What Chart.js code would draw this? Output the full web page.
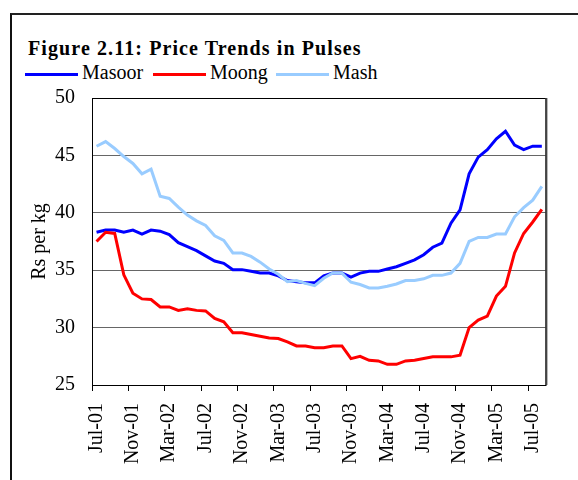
<!DOCTYPE html>
<html lang="en">
<head>
    <meta charset="UTF-8" />
    <title>Price Trends in Pulses</title>
    <script src="https://cdn.jsdelivr.net/npm/chart.js"></script>
    <style>
        body {
            margin: 0;
            background: #fff;
            font-family: 'Liberation Serif', 'Times New Roman', serif;
        }

        .wrap {
            position: relative;
            width: 578px;
            height: 480px;
            overflow: hidden;
        }

        .frame {
            position: absolute;
            left: 10px;
            top: 13px;
            width: 700px;
            height: 600px;
            border-left: 2px solid #111;
            border-top: 2px solid #222;
        }

        .title {
            position: absolute;
            left: 28px;
            top: 38px;
            font-size: 20px;
            line-height: 20px;
            font-weight: bold;
            letter-spacing: 1.1px;
            white-space: nowrap;
        }

        .key-line {
            position: absolute;
            top: 73px;
            height: 3px;
            width: 53px;
        }

        .key-text {
            position: absolute;
            top: 62px;
            font-size: 20px;
            line-height: 20px;
            white-space: nowrap;
        }

        canvas {
            position: absolute;
            left: 0;
            top: 0;
        }
    </style>
</head>
<body>
    <div class="wrap">
        <div class="frame"></div>
        <div class="title">Figure 2.11: Price Trends in Pulses</div>

        <div class="key-line" style="left:25px;background:#0000ff"></div>
        <div class="key-text" style="left:82px">Masoor</div>
        <div class="key-line" style="left:153px;background:#ff0000"></div>
        <div class="key-text" style="left:210px">Moong</div>
        <div class="key-line" style="left:276px;background:#99ccff"></div>
        <div class="key-text" style="left:333px">Mash</div>

        <canvas id="pulseChart" width="578" height="480"></canvas>
    </div>

    <script>
        const months = [
            'Jul-01', 'Aug-01', 'Sep-01', 'Oct-01', 'Nov-01', 'Dec-01', 'Jan-02', 'Feb-02',
            'Mar-02', 'Apr-02', 'May-02', 'Jun-02', 'Jul-02', 'Aug-02', 'Sep-02', 'Oct-02',
            'Nov-02', 'Dec-02', 'Jan-03', 'Feb-03', 'Mar-03', 'Apr-03', 'May-03', 'Jun-03',
            'Jul-03', 'Aug-03', 'Sep-03', 'Oct-03', 'Nov-03', 'Dec-03', 'Jan-04', 'Feb-04',
            'Mar-04', 'Apr-04', 'May-04', 'Jun-04', 'Jul-04', 'Aug-04', 'Sep-04', 'Oct-04',
            'Nov-04', 'Dec-04', 'Jan-05', 'Feb-05', 'Mar-05', 'Apr-05', 'May-05', 'Jun-05',
            'Jul-05', 'Aug-05'
        ];

        // Rs per kg, monthly
        const masoor = [
            38.3, 38.5, 38.5, 38.3, 38.5, 38.15, 38.5, 38.4, 38.1, 37.4,
            37.05, 36.7, 36.25, 35.8, 35.6, 35.05, 35.05, 34.9, 34.75, 34.75,
            34.5, 34.1, 34.0, 33.9, 33.9, 34.5, 34.75, 34.75, 34.4, 34.75,
            34.9, 34.9, 35.1, 35.3, 35.6, 35.9, 36.35, 37.0, 37.35, 39.1,
            40.25, 43.4, 44.85, 45.5, 46.45, 47.1, 45.9, 45.5, 45.8, 45.8
        ];
        const moong = [
            37.5, 38.3, 38.2, 34.6, 33.0, 32.5, 32.45, 31.8, 31.8, 31.5,
            31.65, 31.5, 31.45, 30.8, 30.5, 29.55, 29.55, 29.4, 29.25, 29.1,
            29.05, 28.75, 28.4, 28.4, 28.25, 28.25, 28.4, 28.4, 27.3, 27.5,
            27.15, 27.1, 26.8, 26.8, 27.1, 27.15, 27.3, 27.45, 27.45, 27.45,
            27.6, 30.0, 30.65, 31.0, 32.75, 33.6, 36.5, 38.2, 39.2, 40.3
        ];
        const mash = [
            45.8, 46.2, 45.6, 44.9, 44.3, 43.4, 43.8, 41.45, 41.25, 40.5,
            39.8, 39.3, 38.9, 38.0, 37.6, 36.5, 36.5, 36.2, 35.7, 35.1,
            34.65, 34.0, 34.1, 33.85, 33.65, 34.3, 34.75, 34.75, 33.95, 33.75,
            33.45, 33.45, 33.6, 33.8, 34.1, 34.1, 34.25, 34.55, 34.55, 34.75,
            35.6, 37.5, 37.85, 37.85, 38.15, 38.15, 39.65, 40.45, 41.1, 42.3
        ];

        const serif = "'Liberation Serif', 'Times New Roman', serif";

        // outline round the plot area
        const plotBorder = {
            id: 'plotBorder',
            afterDraw(chart) {
                const { ctx, chartArea: a } = chart;
                ctx.save();
                ctx.strokeStyle = '#000';
                ctx.lineWidth = 1;
                ctx.strokeRect(a.left + 0.5, a.top + 0.5, a.right - a.left - 1, a.bottom - a.top);
                ctx.strokeStyle = '#444';
                ctx.lineWidth = 2;
                ctx.beginPath();
                ctx.moveTo(a.right, a.top);
                ctx.lineTo(a.right, a.bottom);
                ctx.stroke();
                ctx.restore();
            }
        };

        const ctx = document.getElementById('pulseChart').getContext('2d');

        new Chart(ctx, {
            type: 'line',
            data: {
                labels: months,
                datasets: [
                    { label: 'Masoor', data: masoor, borderColor: '#0000ff', order: 2 },
                    { label: 'Moong', data: moong, borderColor: '#ff0000', order: 1 },
                    { label: 'Mash', data: mash, borderColor: '#99ccff', order: 0 }
                ]
            },
            options: {
                responsive: false,
                animation: false,
                devicePixelRatio: 1,
                layout: { padding: { left: 28, top: 98, right: 17, bottom: 0 } },
                elements: {
                    line: { borderWidth: 3, tension: 0 },
                    point: { radius: 0 }
                },
                plugins: {
                    legend: { display: false },
                    tooltip: { enabled: false }
                },
                scales: {
                    x: {
                        offset: true,
                        grid: {
                            offset: true,
                            drawOnChartArea: false,
                            tickLength: 6,
                            color: c => (c.index % 4 === 0 ? '#000' : 'rgba(0,0,0,0)')
                        },
                        border: { display: false },
                        ticks: {
                            autoSkip: false,
                            maxRotation: 90,
                            minRotation: 90,
                            padding: 12,
                            color: '#000',
                            font: { family: serif, size: 20 },
                            callback: function (v, i) {
                                return i % 4 === 0 ? this.getLabelForValue(v) : '';
                            }
                        },
                        afterFit: s => { s.height = 95; }
                    },
                    y: {
                        min: 25,
                        max: 50,
                        grid: { color: '#666', lineWidth: 1, drawTicks: false },
                        border: { display: false },
                        ticks: {
                            stepSize: 5,
                            padding: 17,
                            color: '#000',
                            font: { family: serif, size: 20 }
                        },
                        title: {
                            display: true,
                            text: 'Rs per kg',
                            color: '#000',
                            padding: 0,
                            font: { family: serif, size: 20 }
                        },
                        afterFit: s => { s.width = 64; }
                    }
                }
            },
            plugins: [plotBorder]
        });
    </script>
</body>
</html>
